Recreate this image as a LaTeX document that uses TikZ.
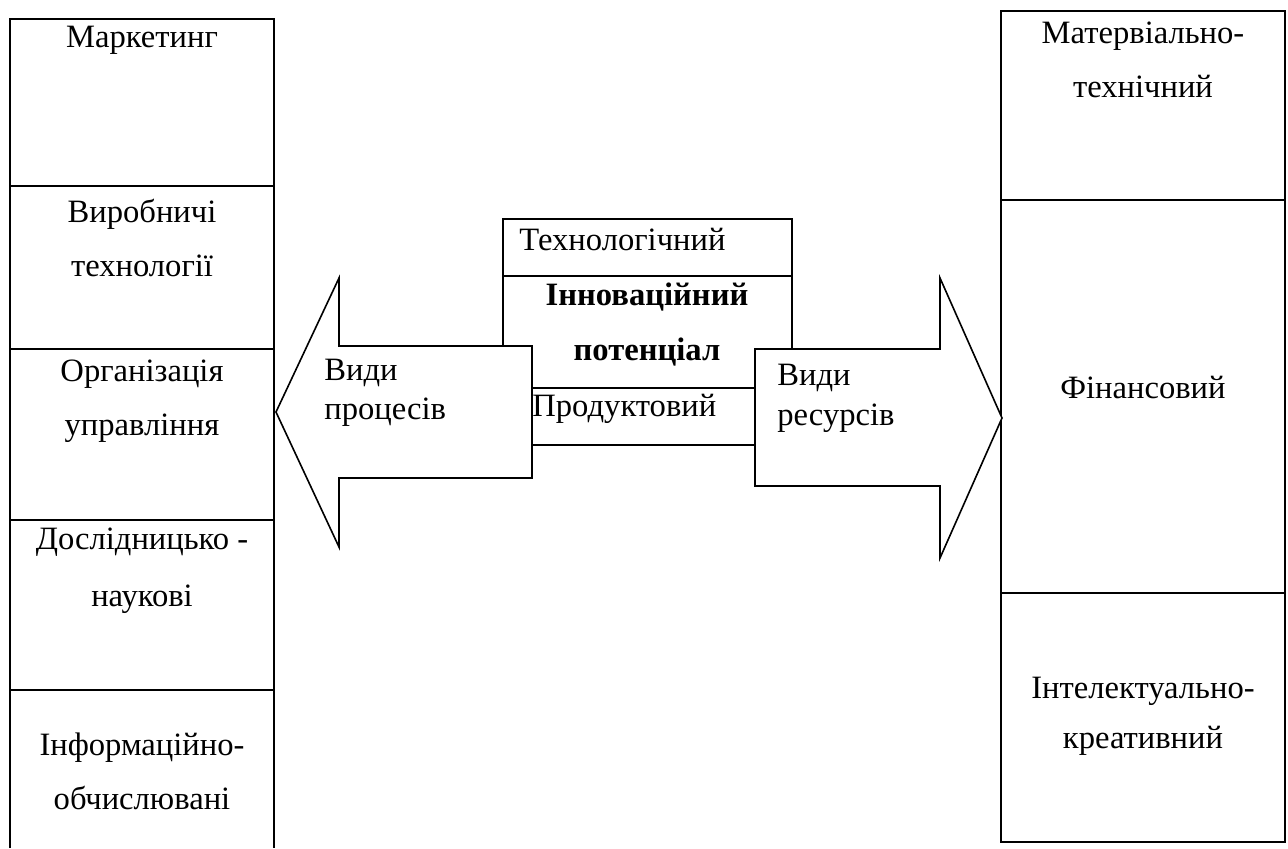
\documentclass[tikz,border=0pt]{standalone}
\usepackage{fontspec}
\setmainfont{Liberation Serif}
\tikzset{
    cell/.style={line width=1pt},
    blockarrow/.style={line width=0.8pt, fill=white, line join=miter},
    lbl/.style={font=\fontsize{16.3}{19}\selectfont, inner sep=0pt},
}
\begin{document}
\begin{tikzpicture}[x=0.5pt, y=-0.5pt]
        \useasboundingbox (0, 0) rectangle (1288, 848);
        % left column: kinds of processes
        \draw[cell] (10, 848) -- (10, 19) -- (274, 19) -- (274, 848);
        \foreach \y in {186, 349, 520, 690}
            \draw[cell] (10, \y) -- (274, \y);
        \node[lbl, anchor=base] (mark) at (142, 47) {Маркетинг};
        \node[lbl, anchor=base] (prod1) at (142, 222) {Виробничі};
        \node[lbl, anchor=base] (prod2) at (142, 276) {технології};
        \node[lbl, anchor=base] (org1) at (142, 381) {Організація};
        \node[lbl, anchor=base] (org2) at (142, 435) {управління};
        \node[lbl, anchor=base] (res1) at (142, 549) {Дослідницько -};
        \node[lbl, anchor=base] (res2) at (142, 606) {наукові};
        \node[lbl, anchor=base] (info1) at (142, 755) {Інформаційно-};
        \node[lbl, anchor=base] (info2) at (142, 809) {обчислювані};
        % right column: kinds of resources
        \draw[cell] (1001, 11) rectangle (1285, 842);
        \foreach \y in {200, 593}
            \draw[cell] (1001, \y) -- (1285, \y);
        \node[lbl, anchor=base] (mat1) at (1143, 43) {Матервіально-};
        \node[lbl, anchor=base] (mat2) at (1143, 97) {технічний};
        \node[lbl, anchor=base] (fin) at (1143, 398) {Фінансовий};
        \node[lbl, anchor=base] (int1) at (1143, 698) {Інтелектуально-};
        \node[lbl, anchor=base] (int2) at (1143, 748) {креативний};
        % centre block
        \draw[cell] (503, 219) rectangle (792, 445);
        \draw[cell] (503, 276) -- (792, 276);
        \draw[cell] (503, 388) -- (792, 388);
        \node[lbl, anchor=base west] (tech) at (519, 250) {Технологічний};
        \node[lbl, anchor=base, font=\fontsize{16.3}{19}\selectfont\bfseries] (innov1) at (647, 305) {Інноваційний};
        \node[lbl, anchor=base, font=\fontsize{16.3}{19}\selectfont\bfseries] (innov2) at (647, 360) {потенціал};
        \node[lbl, anchor=base west] (product) at (532, 416) {Продуктовий};
        % block arrows
        \draw[blockarrow] (532, 346) -- (339, 346) -- (339, 278) -- (276, 412)
            -- (339, 547) -- (339, 478) -- (532, 478) -- cycle;
        \draw[blockarrow] (755, 349) -- (940, 349) -- (940, 278) -- (1002, 418)
            -- (940, 558) -- (940, 486) -- (755, 486) -- cycle;
        \node[lbl, anchor=base west] (proc1) at (324, 380) {Види};
        \node[lbl, anchor=base west] (proc2) at (324, 419) {процесів};
        \node[lbl, anchor=base west] (resv1) at (777, 385) {Види};
        \node[lbl, anchor=base west] (resv2) at (777, 425) {ресурсів};
\end{tikzpicture}
\end{document}
